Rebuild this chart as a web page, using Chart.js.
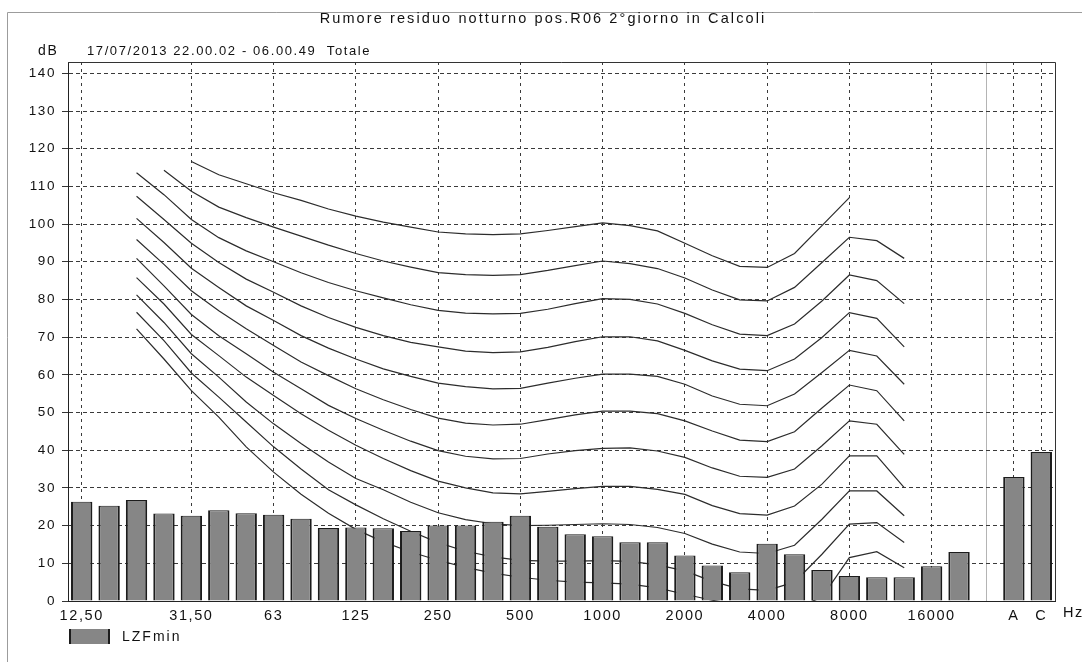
<!DOCTYPE html>
<html>
<head>
<meta charset="utf-8">
<script src="https://cdn.jsdelivr.net/npm/chart.js@4.4.0/dist/chart.umd.min.js"></script>
<style>
html,body{margin:0;padding:0;background:#fff;}
#wrap{position:relative;width:1088px;height:662px;}
canvas{display:block;}
</style>
</head>
<body>
<div id="wrap"><canvas id="c" width="1088" height="662"></canvas></div>
<script>
// ---- data ----
const titleText = 'Rumore residuo notturno pos.R06 2°giorno in Calcoli';
const subtitleText = '17/07/2013 22.00.02 - 06.00.49  Totale';
const categories = ['12,50','16','20','25','31,50','40','50','63','80','100','125','160','200','250','315','400','500','630','800','1000','1250','1600','2000','2500','3150','4000','5000','6300','8000','10000','12500','16000','20000','','A','C'];
const shownTicks = ['12,50','31,50','63','125','250','500','1000','2000','4000','8000','16000','A','C'];
const yTicks = [0,10,20,30,40,50,60,70,80,90,100,110,120,130,140];
const lzfmin = [26.3,25.3,26.8,23.2,22.6,24.1,23.3,22.9,21.8,19.4,19.5,19.3,18.6,20.0,20.0,21.0,22.6,19.7,17.7,17.2,15.6,15.6,12.1,9.4,7.6,15.2,12.4,8.2,6.6,6.3,6.3,9.2,13.0,null,32.9,39.5];

const phon100 = [null,null,null,null,116.6,113.1,110.7,108.3,106.3,104.0,102.1,100.5,99.2,97.9,97.4,97.2,97.4,98.3,99.3,100.3,99.6,98.2,94.9,91.6,88.8,88.5,92.2,99.6,107.0,null,null,null,null,null,null,null];
const phon90  = [null,null,null,114.3,108.7,104.5,101.7,99.2,96.8,94.4,92.2,90.2,88.6,87.1,86.6,86.4,86.6,87.7,89.0,90.2,89.5,88.2,85.7,82.5,79.9,79.6,83.2,89.8,96.5,95.6,90.9,null,null,null,null,null];
const phon80  = [null,null,113.6,107.8,101.2,96.4,92.9,90.0,87.1,84.5,82.3,80.4,78.6,77.1,76.4,76.2,76.3,77.4,78.9,80.2,80.0,78.8,76.3,73.3,70.8,70.4,73.5,79.6,86.5,85.0,78.9,null,null,null,null,null];
const phon70  = [null,null,107.4,101.2,94.9,89.8,85.4,81.9,78.3,75.2,72.6,70.4,68.6,67.4,66.3,65.9,66.1,67.3,68.8,70.1,70.1,69.0,66.5,63.7,61.5,61.1,64.2,69.9,76.5,75.0,67.4,null,null,null,null,null];
const phon60  = [null,null,101.5,95.1,88.3,83.2,78.3,74.4,70.4,67.1,64.2,61.6,59.6,57.8,56.9,56.3,56.4,57.8,59.1,60.2,60.2,59.6,57.5,54.4,52.2,51.8,54.9,60.6,66.5,65.0,57.5,null,null,null,null,null];
const phon50  = [null,null,95.9,89.3,82.3,77.0,72.2,67.8,63.4,59.8,56.3,53.4,50.8,48.5,47.2,46.7,46.9,48.1,49.4,50.4,50.4,49.7,47.8,45.1,42.7,42.3,44.9,51.2,57.3,55.8,47.8,null,null,null,null,null];
const phon40  = [null,null,90.9,83.6,76.0,70.4,65.6,60.7,56.3,51.9,48.4,45.3,42.4,39.9,38.4,37.7,37.8,39.0,39.9,40.5,40.6,39.8,38.1,35.3,33.1,32.8,35.0,41.2,47.8,46.9,38.9,null,null,null,null,null];
const phon30  = [null,null,85.8,78.8,70.7,65.1,59.4,54.5,49.7,45.3,41.3,37.8,34.6,31.8,30.0,28.7,28.4,29.1,29.8,30.4,30.4,29.6,28.3,25.3,23.2,22.8,25.2,31.0,38.5,38.5,30.1,null,null,null,null,null];
const phon20  = [null,null,81.2,73.9,65.6,59.4,52.8,47.0,41.8,36.9,32.5,29.5,26.2,23.4,21.6,20.5,20.0,20.1,20.3,20.5,20.3,19.5,17.9,15.1,13.0,12.6,14.8,21.7,29.2,29.2,22.6,null,null,null,null,null];
const phon10  = [null,null,76.6,69.1,60.5,54.1,47.5,40.9,35.0,29.5,25.5,21.8,18.5,15.5,13.2,11.7,10.8,10.6,10.6,10.7,10.5,9.6,8.0,5.2,3.2,2.8,5.0,12.4,20.4,20.8,15.5,null,null,null,null,null];
const phon0   = [null,null,72.2,64.2,55.8,48.8,40.9,34.2,28.3,23.3,19.0,15.7,13.0,10.8,8.9,7.4,6.3,5.5,5.0,4.8,4.5,3.5,1.8,0.2,-1.0,-1.5,-2.0,1.0,11.5,13.1,8.8,null,null,null,null,null];

const contours = [phon100, phon90, phon80, phon70, phon60, phon50, phon40, phon30, phon20, phon10, phon0];

// ---- styling ----
const FONT = '"Liberation Sans", Arial, Helvetica, sans-serif';
const BAR_FILL = '#868686';
const BAR_EDGE = '#1c1c1c';
const LINE_COL = '#2c2c2c';
const GRID_COL = '#3a3a3a';

function setSpacing(chart, v){ try { chart.ctx.letterSpacing = v; } catch(e){} }

const deco = {
  id: 'deco',
  beforeUpdate(chart){ setSpacing(chart, '1.6px'); },
  beforeDraw(chart){
    const ctx = chart.ctx;
    ctx.save();
    ctx.fillStyle = '#fff';
    ctx.fillRect(0, 0, chart.width, chart.height);
    ctx.strokeStyle = '#9c9c9c';
    ctx.lineWidth = 1;
    ctx.beginPath();
    ctx.moveTo(7.5, 662); ctx.lineTo(7.5, 12.5); ctx.lineTo(1082, 12.5);
    ctx.stroke();
    ctx.restore();
    setSpacing(chart, '1.6px');
  },
  afterDraw(chart){
    const ctx = chart.ctx, a = chart.chartArea;
    ctx.save();
    ctx.strokeStyle = '#333';
    ctx.lineWidth = 1;
    ctx.beginPath();
    ctx.moveTo(a.left, a.top + 0.5);
    ctx.lineTo(a.right + 0.5, a.top + 0.5);
    ctx.lineTo(a.right + 0.5, a.bottom);
    ctx.stroke();

    ctx.fillStyle = '#111';
    ctx.textBaseline = 'middle';
    ctx.letterSpacing = '2.1px';
    ctx.font = '14.5px ' + FONT;
    ctx.textAlign = 'center';
    ctx.fillText(titleText, 543, 19);

    ctx.letterSpacing = '1.6px';
    ctx.textAlign = 'left';
    ctx.font = '13px ' + FONT;
    ctx.fillText(subtitleText, 87, 51);
    ctx.font = '14px ' + FONT;
    ctx.fillText('dB', 38, 51);
    ctx.font = '14.5px ' + FONT;
    ctx.fillText('Hz', 1063, 613);

    // legend
    ctx.fillStyle = BAR_FILL;
    ctx.fillRect(69, 629, 41, 15);
    ctx.strokeStyle = BAR_EDGE;
    ctx.lineWidth = 2;
    ctx.beginPath();
    ctx.moveTo(70, 629); ctx.lineTo(70, 644);
    ctx.moveTo(109, 629); ctx.lineTo(109, 644);
    ctx.stroke();
    ctx.fillStyle = '#111';
    ctx.letterSpacing = '2px';
    ctx.font = '14px ' + FONT;
    ctx.fillText('LZFmin', 122, 637);
    ctx.restore();
  }
};

const datasets = [{
  type: 'bar',
  label: 'LZFmin',
  data: lzfmin,
  backgroundColor: BAR_FILL,
  borderColor: BAR_EDGE,
  borderWidth: {left: 2, right: 2, top: 1, bottom: 0},
  borderSkipped: 'bottom',
  barPercentage: 0.78,
  categoryPercentage: 1,
  order: 0
}];
contours.forEach((c, i) => datasets.push({
  type: 'line',
  label: 'iso' + i,
  data: c,
  borderColor: LINE_COL,
  borderWidth: 1.2,
  pointRadius: 0,
  tension: 0,
  fill: false,
  spanGaps: false,
  order: 1
}));

const shownIdx = categories.map((c, i) => shownTicks.includes(c) && c !== '' ? i : -1).filter(i => i >= 0);

new Chart(document.getElementById('c'), {
  type: 'bar',
  data: { labels: categories, datasets },
  options: {
    responsive: false,
    animation: false,
    devicePixelRatio: 1,
    layout: { padding: { top: 62, right: 33, bottom: 0, left: 0 } },
    plugins: { legend: { display: false }, tooltip: { enabled: false }, title: { display: false } },
    scales: {
      x: {
        type: 'category',
        offset: true,
        grid: {
          offset: false,
          drawTicks: false,
          lineWidth: 1,
          color: c => c.type !== 'tick' ? GRID_COL : (shownIdx.includes(c.index) ? GRID_COL : (c.index === 33 ? '#b4b4b4' : 'rgba(0,0,0,0)'))
        },
        border: {
          display: true, color: '#222', width: 1,
          dash: c => (c.type === 'tick' && c.index !== 33) ? [3, 4] : []
        },
        ticks: {
          autoSkip: false, maxRotation: 0, minRotation: 0, padding: 6,
          color: '#111', font: { family: FONT, size: 14.5 },
          callback: (v, i) => shownIdx.includes(i) ? categories[i] : ''
        },
        afterFit: s => { s.height = 61; }
      },
      y: {
        min: 0, max: 143,
        afterBuildTicks: s => { s.ticks = yTicks.map(v => ({ value: v })); },
        grid: { color: GRID_COL, lineWidth: 1, drawTicks: true, tickLength: 6, tickColor: '#333', tickBorderDash: [] },
        border: { display: true, color: '#222', width: 1, dash: c => c.type === 'tick' ? [4, 3] : [] },
        ticks: { padding: 6, color: '#111', font: { family: FONT, size: 13.5 } },
        afterFit: s => { s.width = 68; }
      }
    }
  },
  plugins: [deco]
});
</script>
</body>
</html>
